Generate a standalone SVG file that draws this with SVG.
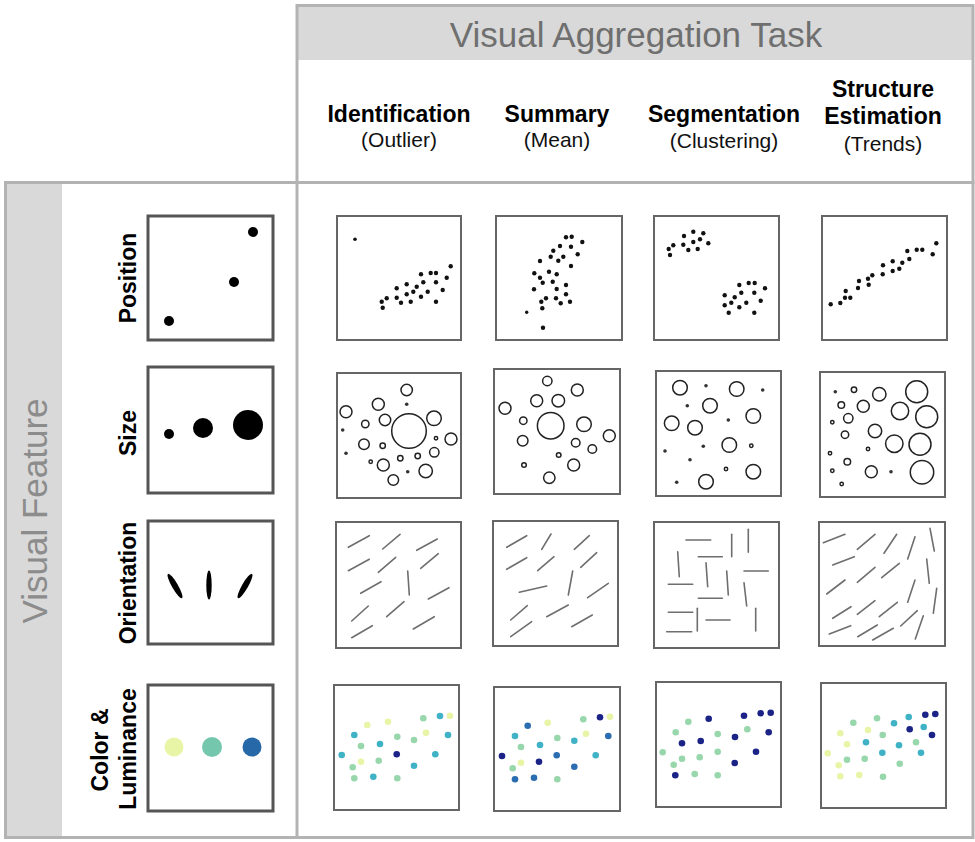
<svg xmlns="http://www.w3.org/2000/svg" width="975" height="842" viewBox="0 0 975 842">
<style>
.frame{fill:none;stroke:#b3b3b3;stroke-width:3}
.band{fill:#d9d9d9}
.title{font-family:"Liberation Sans",Arial,sans-serif;fill:#6f6f6f}
.hb{font-family:"Liberation Sans",Arial,sans-serif;font-weight:bold;font-size:23px;fill:#000;text-anchor:middle}
.hr{font-family:"Liberation Sans",Arial,sans-serif;font-size:21px;fill:#111;text-anchor:middle}
.leg{fill:#fff;stroke:#555;stroke-width:3}
.pan{fill:#fff;stroke:#666;stroke-width:2}
.pd{fill:#111}
.so{fill:none;stroke:#222;stroke-width:1.5}
.sf{fill:#333}
.ol{stroke:#6e6e6e;stroke-width:1.6;stroke-linecap:round}
.Y{fill:#e8f5a6}.G{fill:#98d7ac}.T{fill:#3fb2c6}.B{fill:#2a6db0}.N{fill:#1b2387}
</style>
<rect width="975" height="842" fill="#fff"/>
<g id="frames">
<rect class="band" x="298" y="7" width="674" height="53"/>
<rect class="band" x="7" y="184" width="55" height="653"/>
<rect class="frame" x="297" y="5.5" width="676" height="177"/>
<rect class="frame" x="5.5" y="182.5" width="967.5" height="655"/>
<line class="frame" x1="297" y1="182" x2="297" y2="838"/>
</g>
<g id="title-task"><text class="title" x="636" y="47" font-size="35" text-anchor="middle">Visual Aggregation Task</text></g>
<g id="title-feature"><text class="title" transform="translate(47,511) rotate(-90)" font-size="35" text-anchor="middle" fill="#8c8c8c" style="fill:#8c8c8c">Visual Feature</text></g>
<g id="col-identification"><text class="hb" x="399" y="122">Identification</text><text class="hr" x="399" y="147">(Outlier)</text></g>
<g id="col-summary"><text class="hb" x="557" y="122">Summary</text><text class="hr" x="557" y="147">(Mean)</text></g>
<g id="col-segmentation"><text class="hb" x="724" y="122">Segmentation</text><text class="hr" x="724" y="148">(Clustering)</text></g>
<g id="col-structure"><text class="hb" x="883" y="97">Structure</text><text class="hb" x="883" y="124">Estimation</text><text class="hr" x="883" y="151">(Trends)</text></g>
<g id="row-position">
<text class="hb" transform="translate(136,278) rotate(-90)">Position</text>
<rect class="leg" x="148" y="216" width="125" height="124"/>
<circle cx="169" cy="321" r="5"/><circle cx="234" cy="282" r="5"/><circle cx="253" cy="232" r="5"/>
</g>
<g id="row-size">
<text class="hb" transform="translate(136,433) rotate(-90)">Size</text>
<rect class="leg" x="148" y="367" width="125" height="126"/>
<circle cx="169" cy="434" r="5"/><circle cx="203" cy="428" r="10"/><circle cx="248" cy="425" r="15"/>
</g>
<g id="row-orientation">
<text class="hb" transform="translate(136,583) rotate(-90)">Orientation</text>
<rect class="leg" x="148" y="521" width="125" height="123"/>
<ellipse cx="175" cy="586" rx="3" ry="14" transform="rotate(-30 175 586)"/>
<ellipse cx="209" cy="585" rx="2.7" ry="14.5"/>
<ellipse cx="245" cy="586" rx="3" ry="14" transform="rotate(30 245 586)"/>
</g>
<g id="row-color">
<text class="hb" transform="translate(108,750) rotate(-90)">Color &amp;</text>
<text class="hb" transform="translate(136,749) rotate(-90)">Luminance</text>
<rect class="leg" x="148" y="685" width="125" height="126"/>
<circle cx="174" cy="747" r="9.5" fill="#e9f5a6"/><circle cx="212" cy="747" r="10" fill="#74c7ad"/><circle cx="252" cy="747" r="9.5" fill="#2668a8"/>
</g>
<g id="pos-identification">
<rect class="pan" x="337" y="216" width="124" height="124"/>
<g class="pd">
<circle cx="355" cy="239.3" r="1.8"/>
<circle cx="381.7" cy="301.7" r="2.2"/><circle cx="382.7" cy="307.7" r="2.2"/><circle cx="386.7" cy="298.3" r="2.2"/><circle cx="396.7" cy="288.3" r="2.2"/><circle cx="396.7" cy="297.7" r="2.2"/><circle cx="401" cy="302.7" r="2.2"/><circle cx="406.7" cy="284.3" r="2.2"/><circle cx="406.7" cy="294.3" r="2.2"/><circle cx="410.7" cy="301.7" r="2.2"/><circle cx="413.3" cy="291.7" r="2.2"/><circle cx="416.7" cy="286.7" r="2.2"/><circle cx="421" cy="274.3" r="2.2"/><circle cx="421" cy="296.7" r="2.2"/><circle cx="423.3" cy="282.3" r="2.2"/><circle cx="427.7" cy="291.7" r="2.2"/><circle cx="430.7" cy="273" r="2.2"/><circle cx="436" cy="273" r="2.2"/><circle cx="436" cy="282.3" r="2.2"/><circle cx="436" cy="301.7" r="2.2"/><circle cx="442.7" cy="290" r="2.2"/><circle cx="446.7" cy="277.7" r="2.2"/><circle cx="450.7" cy="266.3" r="2.2"/>
</g>
</g>
<g id="pos-summary">
<rect class="pan" x="496" y="216" width="126" height="124"/>
<g class="pd">
<circle cx="566" cy="237.3" r="2.2"/><circle cx="571.7" cy="236.7" r="2.2"/><circle cx="582.3" cy="242" r="2.2"/><circle cx="560" cy="246" r="2.2"/><circle cx="571" cy="246.7" r="2.2"/><circle cx="553.3" cy="250.7" r="2.2"/><circle cx="577.7" cy="254.3" r="2.2"/><circle cx="550.7" cy="256.7" r="2.2"/><circle cx="563.3" cy="256.7" r="2.2"/><circle cx="558.3" cy="260.7" r="2.2"/><circle cx="540" cy="261" r="2.2"/><circle cx="571" cy="266" r="2.2"/><circle cx="534.3" cy="273.3" r="2.2"/><circle cx="549" cy="271.7" r="2.2"/><circle cx="556.7" cy="274.3" r="2.2"/><circle cx="540" cy="277.7" r="2.2"/><circle cx="542.7" cy="282.7" r="2.2"/><circle cx="552.7" cy="281.7" r="2.2"/><circle cx="566" cy="285" r="2.2"/><circle cx="534" cy="289.3" r="2.2"/><circle cx="556.7" cy="289" r="2.2"/><circle cx="566" cy="294.3" r="2.2"/><circle cx="546" cy="298.3" r="2.2"/><circle cx="556" cy="298.3" r="2.2"/><circle cx="570" cy="301.7" r="2.2"/><circle cx="541.3" cy="301.7" r="2.2"/><circle cx="560.7" cy="303.3" r="2.2"/><circle cx="542.3" cy="308.3" r="2.2"/><circle cx="526.7" cy="312.3" r="1.7"/><circle cx="543" cy="327.7" r="2.2"/>
</g>
</g>
<g id="pos-segmentation">
<rect class="pan" x="654" y="216" width="125" height="124"/>
<g class="pd">
<circle cx="684" cy="236" r="2.2"/><circle cx="693.3" cy="231.7" r="2.2"/><circle cx="703.3" cy="233.3" r="2.2"/><circle cx="673.3" cy="245.3" r="2.2"/><circle cx="668.7" cy="249" r="2.2"/><circle cx="670" cy="255" r="2.2"/><circle cx="683.3" cy="244.7" r="2.2"/><circle cx="693.3" cy="242" r="2.2"/><circle cx="700" cy="239.3" r="2.2"/><circle cx="708.3" cy="243.3" r="2.2"/><circle cx="688.3" cy="250" r="2.2"/><circle cx="697.7" cy="249" r="2.2"/>
<circle cx="739.3" cy="285" r="2.2"/><circle cx="748.7" cy="283" r="2.2"/><circle cx="754.7" cy="283" r="2.2"/><circle cx="765" cy="288.3" r="2.2"/><circle cx="724.7" cy="295.3" r="2.2"/><circle cx="734.7" cy="297.3" r="2.2"/><circle cx="741.3" cy="292.7" r="2.2"/><circle cx="754.3" cy="292.7" r="2.2"/><circle cx="731.3" cy="302.7" r="2.2"/><circle cx="724.7" cy="305.3" r="2.2"/><circle cx="746.3" cy="302.7" r="2.2"/><circle cx="739.3" cy="307.3" r="2.2"/><circle cx="760.7" cy="300.7" r="2.2"/><circle cx="728.7" cy="312.7" r="2.2"/><circle cx="754.3" cy="312.7" r="2.2"/>
</g>
</g>
<g id="pos-structure">
<rect class="pan" x="822" y="216" width="125" height="124"/>
<g class="pd">
<circle cx="830.7" cy="304.3" r="2.2"/><circle cx="840.3" cy="303" r="2.2"/><circle cx="845" cy="297.7" r="2.2"/><circle cx="850.3" cy="297.7" r="2.2"/><circle cx="845.7" cy="291" r="2.2"/><circle cx="858" cy="288" r="2.2"/><circle cx="859" cy="281" r="2.2"/><circle cx="868" cy="278.7" r="2.2"/><circle cx="868.7" cy="284.7" r="2.2"/><circle cx="872.3" cy="275.3" r="2.2"/><circle cx="882.7" cy="274.3" r="2.2"/><circle cx="883" cy="265.3" r="2.2"/><circle cx="892.7" cy="271" r="2.2"/><circle cx="892.7" cy="261.3" r="2.2"/><circle cx="899.3" cy="268.7" r="2.2"/><circle cx="902.3" cy="262.7" r="2.2"/><circle cx="909.3" cy="259" r="2.2"/><circle cx="907.3" cy="251" r="2.2"/><circle cx="916.7" cy="249.7" r="2.2"/><circle cx="922.3" cy="249.7" r="2.2"/><circle cx="932.7" cy="254.3" r="2.2"/><circle cx="936.3" cy="243.3" r="2.2"/>
</g>
</g>
<g id="size-identification">
<rect class="pan" x="337" y="373" width="124" height="125"/>
<g class="so">
<circle cx="406.7" cy="390" r="5.7"/><circle cx="378.3" cy="404.3" r="6"/><circle cx="346" cy="411.7" r="6"/><circle cx="385" cy="420" r="5.7"/><circle cx="409" cy="431" r="17.3"/><circle cx="434" cy="418.3" r="7.3"/><circle cx="365.3" cy="424" r="3.7"/><circle cx="436" cy="438.3" r="1.7"/><circle cx="451" cy="439" r="6"/><circle cx="364" cy="444.3" r="5.3"/><circle cx="382.7" cy="445.7" r="2.7"/><circle cx="434.3" cy="452.3" r="4.7"/><circle cx="417.7" cy="456" r="2.7"/><circle cx="400.3" cy="458.3" r="2.7"/><circle cx="370.7" cy="461.7" r="1.7"/><circle cx="383.3" cy="465" r="6"/><circle cx="425.7" cy="471" r="6.7"/><circle cx="393.3" cy="480" r="5.3"/>
</g>
<g class="sf"><circle cx="406.7" cy="404.3" r="1.8"/><circle cx="342.7" cy="430" r="1.8"/><circle cx="346" cy="453.3" r="1.8"/><circle cx="407.7" cy="471.7" r="1.8"/></g>
</g>
<g id="size-summary">
<rect class="pan" x="494" y="369" width="126" height="125"/>
<g class="so">
<circle cx="547.3" cy="381" r="4.7"/><circle cx="577.3" cy="390" r="6"/><circle cx="536.7" cy="400.7" r="6"/><circle cx="558.3" cy="400.7" r="6.3"/><circle cx="505" cy="408.3" r="6"/><circle cx="523.3" cy="420.7" r="3.7"/><circle cx="550.7" cy="425.7" r="13.3"/><circle cx="584" cy="424.3" r="7.3"/><circle cx="609.3" cy="435.7" r="6"/><circle cx="522.7" cy="440.7" r="5.3"/><circle cx="575.7" cy="442.7" r="4.3"/><circle cx="592.3" cy="449" r="4.3"/><circle cx="558.7" cy="455" r="2.3"/><circle cx="524" cy="465" r="2.3"/><circle cx="573.7" cy="465" r="6"/><circle cx="549.3" cy="477.7" r="5.7"/>
</g>
</g>
<g id="size-segmentation">
<rect class="pan" x="656" y="371" width="125" height="125"/>
<g class="so">
<circle cx="680" cy="387.7" r="7.3"/><circle cx="736.7" cy="389" r="7.3"/><circle cx="710" cy="405.7" r="7.3"/><circle cx="753.3" cy="416" r="7.3"/><circle cx="671.7" cy="423.3" r="7.3"/><circle cx="695" cy="427.7" r="7.3"/><circle cx="729.3" cy="445" r="7.3"/><circle cx="751.3" cy="445.7" r="1.7"/><circle cx="726" cy="469" r="1.7"/><circle cx="753.3" cy="471.7" r="7.3"/><circle cx="706" cy="481.7" r="7.3"/>
</g>
<g class="sf"><circle cx="706" cy="385.7" r="1.8"/><circle cx="762.7" cy="390" r="1.8"/><circle cx="687.3" cy="405.7" r="1.8"/><circle cx="728.3" cy="420" r="1.8"/><circle cx="665" cy="451" r="1.8"/><circle cx="703.3" cy="446.3" r="1.8"/><circle cx="690" cy="459.7" r="1.8"/><circle cx="676.7" cy="482.3" r="1.8"/></g>
</g>
<g id="size-structure">
<rect class="pan" x="820" y="372" width="125" height="125"/>
<g class="so">
<circle cx="854" cy="389.7" r="2.7"/><circle cx="879.3" cy="394.3" r="6.7"/><circle cx="916.7" cy="391.7" r="11"/><circle cx="841.3" cy="405" r="3.3"/><circle cx="863.3" cy="406.3" r="6"/><circle cx="900" cy="411" r="8.7"/><circle cx="926.7" cy="416.7" r="11"/><circle cx="848.3" cy="418.3" r="4.7"/><circle cx="832.3" cy="422.3" r="1.7"/><circle cx="875" cy="431" r="6.7"/><circle cx="845" cy="434.7" r="3.7"/><circle cx="894.3" cy="443.7" r="8.7"/><circle cx="920" cy="444.3" r="11"/><circle cx="868" cy="449" r="1.7"/><circle cx="830" cy="453.3" r="1.7"/><circle cx="847.3" cy="461.7" r="3.3"/><circle cx="871.3" cy="471.7" r="6"/><circle cx="922" cy="472.3" r="11.7"/><circle cx="832.3" cy="470.7" r="1.7"/><circle cx="841.7" cy="484" r="1.7"/>
</g>
<g class="sf"><circle cx="835.3" cy="391.7" r="1.8"/><circle cx="891" cy="471.7" r="1.8"/></g>
</g>
<g id="orient-identification">
<rect class="pan" x="336" y="522" width="125" height="126"/>
<g class="ol">
<line x1="348.3" y1="547.3" x2="369.3" y2="535.7"/><line x1="382.7" y1="549" x2="400" y2="534.3"/><line x1="416.7" y1="550.3" x2="437.3" y2="539"/><line x1="348.3" y1="570.7" x2="369.3" y2="559.3"/><line x1="378.3" y1="572.3" x2="395.7" y2="557.3"/><line x1="420.7" y1="568.3" x2="438.3" y2="553.7"/><line x1="407.7" y1="571" x2="409.3" y2="595"/><line x1="360.7" y1="593.3" x2="381" y2="581.7"/><line x1="428.3" y1="599" x2="449" y2="587.7"/><line x1="351.7" y1="621" x2="368.3" y2="606"/><line x1="386.7" y1="616.7" x2="404" y2="601.7"/><line x1="351.7" y1="637.7" x2="372.3" y2="625.7"/><line x1="413.3" y1="629" x2="434.3" y2="616.7"/>
</g>
</g>
<g id="orient-summary">
<rect class="pan" x="493" y="521" width="125" height="125"/>
<g class="ol">
<line x1="506.7" y1="547.3" x2="526.7" y2="535.7"/><line x1="541.7" y1="549.3" x2="551" y2="534"/><line x1="574.3" y1="549.3" x2="589.3" y2="535.7"/><line x1="506.7" y1="569.3" x2="526.7" y2="557.7"/><line x1="537.7" y1="570.7" x2="554" y2="556.7"/><line x1="580.7" y1="567.3" x2="596.7" y2="552.7"/><line x1="568.3" y1="595" x2="572.7" y2="571"/><line x1="519.3" y1="592.3" x2="546.7" y2="586"/><line x1="587.7" y1="597.7" x2="608.3" y2="583.3"/><line x1="510.7" y1="620" x2="527.3" y2="605.7"/><line x1="546.7" y1="616.7" x2="568.3" y2="605"/><line x1="571.7" y1="626.7" x2="592.3" y2="615"/><line x1="510.7" y1="636.7" x2="531.7" y2="621.7"/>
</g>
</g>
<g id="orient-segmentation">
<rect class="pan" x="654" y="522" width="125" height="126"/>
<g class="ol">
<line x1="686" y1="540" x2="710.7" y2="540"/><line x1="731.7" y1="534.3" x2="731.7" y2="556.7"/><line x1="748.3" y1="529.3" x2="748.3" y2="552.3"/><line x1="677.7" y1="551.7" x2="679.3" y2="576.7"/><line x1="698.3" y1="556.7" x2="722.3" y2="556.7"/><line x1="706" y1="562.7" x2="707.7" y2="586.7"/><line x1="726.7" y1="571" x2="728.3" y2="595"/><line x1="744" y1="571" x2="768.3" y2="571"/><line x1="668.3" y1="584.3" x2="692.7" y2="584.3"/><line x1="744" y1="582.7" x2="746.7" y2="606"/><line x1="698.3" y1="598.3" x2="722.3" y2="598.3"/><line x1="697.3" y1="608.3" x2="697.3" y2="631"/><line x1="668.3" y1="612.3" x2="692.7" y2="612.3"/><line x1="706" y1="620" x2="730" y2="620"/><line x1="755.7" y1="608.3" x2="755.7" y2="631"/><line x1="666.7" y1="631.7" x2="691.7" y2="631.7"/>
</g>
</g>
<g id="orient-structure">
<rect class="pan" x="819" y="522" width="126" height="124"/>
<g class="ol">
<line x1="823.3" y1="542.7" x2="845" y2="534.3"/><line x1="857.3" y1="549.3" x2="875" y2="534.3"/><line x1="884" y1="553.3" x2="896.7" y2="534.3"/><line x1="907.7" y1="559" x2="915" y2="536.7"/><line x1="930" y1="528.3" x2="934.3" y2="551"/><line x1="832.7" y1="565" x2="854.3" y2="556.7"/><line x1="857.3" y1="582.3" x2="875" y2="567.3"/><line x1="881.7" y1="577.7" x2="899.3" y2="563.3"/><line x1="926.7" y1="559" x2="929.3" y2="583.3"/><line x1="826.7" y1="594" x2="845" y2="580"/><line x1="907.7" y1="602.3" x2="915" y2="580"/><line x1="933.3" y1="613.3" x2="936.7" y2="588.3"/><line x1="832.7" y1="618.3" x2="851" y2="606.7"/><line x1="857.3" y1="614.3" x2="875" y2="600.7"/><line x1="879.3" y1="616.7" x2="897.3" y2="602.3"/><line x1="900.7" y1="626" x2="917.3" y2="610.7"/><line x1="829.3" y1="634" x2="850.7" y2="625.7"/><line x1="857.7" y1="636.7" x2="877.3" y2="625"/><line x1="872.7" y1="640" x2="893.3" y2="628.3"/><line x1="915.3" y1="639" x2="923.3" y2="615.7"/>
</g>
</g>
<g id="color-identification">
<rect class="pan" x="334" y="685" width="125" height="125"/>
<circle class="Y" cx="367.3" cy="725" r="3.3"/><circle class="Y" cx="388" cy="721.7" r="3.3"/><circle class="G" cx="423.3" cy="718.3" r="3.3"/><circle class="T" cx="440" cy="716" r="3.3"/><circle class="Y" cx="450" cy="715.7" r="3.3"/><circle class="T" cx="354.3" cy="735" r="3.3"/><circle class="G" cx="397.3" cy="736.7" r="3.3"/><circle class="G" cx="414" cy="740" r="3.3"/><circle class="Y" cx="426" cy="732.7" r="3.3"/><circle class="T" cx="448" cy="735" r="3.3"/><circle class="G" cx="361" cy="746" r="3.3"/><circle class="T" cx="380" cy="744" r="3.3"/><circle class="T" cx="341.7" cy="755" r="3.3"/><circle class="N" cx="396.7" cy="754.3" r="3.3"/><circle class="T" cx="435.3" cy="754.3" r="3.3"/><circle class="Y" cx="361" cy="761.7" r="3.3"/><circle class="G" cx="378.7" cy="760.7" r="3.3"/><circle class="G" cx="352.7" cy="767.3" r="3.3"/><circle class="T" cx="414" cy="765.7" r="3.3"/><circle class="G" cx="354.3" cy="778.3" r="3.3"/><circle class="T" cx="373.3" cy="776.7" r="3.3"/><circle class="G" cx="397.3" cy="778.3" r="3.3"/>
</g>
<g id="color-summary">
<rect class="pan" x="494" y="687" width="126" height="124"/>
<circle class="Y" cx="547.7" cy="722.7" r="3.3"/><circle class="G" cx="583.3" cy="719.3" r="3.3"/><circle class="N" cx="600" cy="717.3" r="3.3"/><circle class="Y" cx="610" cy="716.7" r="3.3"/><circle class="B" cx="527.7" cy="725.7" r="3.3"/><circle class="T" cx="515" cy="736" r="3.3"/><circle class="G" cx="557.3" cy="738" r="3.3"/><circle class="T" cx="574.3" cy="740.7" r="3.3"/><circle class="Y" cx="586" cy="733.7" r="3.3"/><circle class="B" cx="608.3" cy="736" r="3.3"/><circle class="G" cx="521" cy="747" r="3.3"/><circle class="T" cx="540" cy="745" r="3.3"/><circle class="N" cx="502" cy="756" r="3.3"/><circle class="B" cx="556.7" cy="755.3" r="3.3"/><circle class="T" cx="595.7" cy="755.3" r="3.3"/><circle class="Y" cx="521" cy="762.7" r="3.3"/><circle class="N" cx="539" cy="761.7" r="3.3"/><circle class="G" cx="512.7" cy="768.3" r="3.3"/><circle class="B" cx="574.3" cy="766.7" r="3.3"/><circle class="B" cx="515" cy="779.3" r="3.3"/><circle class="B" cx="534" cy="777.7" r="3.3"/><circle class="G" cx="557.3" cy="779.3" r="3.3"/>
</g>
<g id="color-segmentation">
<rect class="pan" x="656" y="682" width="125" height="125"/>
<circle class="G" cx="688.3" cy="721.7" r="3.3"/><circle class="N" cx="708.7" cy="718.7" r="3.3"/><circle class="N" cx="744" cy="715.7" r="3.3"/><circle class="N" cx="760.7" cy="713.3" r="3.3"/><circle class="N" cx="770.7" cy="712.7" r="3.3"/><circle class="G" cx="675.7" cy="732.3" r="3.3"/><circle class="G" cx="717.7" cy="734" r="3.3"/><circle class="N" cx="735" cy="737" r="3.3"/><circle class="G" cx="747.3" cy="729.3" r="3.3"/><circle class="N" cx="768.7" cy="732.3" r="3.3"/><circle class="N" cx="682" cy="743.3" r="3.3"/><circle class="N" cx="700.7" cy="741" r="3.3"/><circle class="G" cx="662.7" cy="752.3" r="3.3"/><circle class="G" cx="682" cy="758.7" r="3.3"/><circle class="G" cx="699.7" cy="757.3" r="3.3"/><circle class="G" cx="717.7" cy="751.7" r="3.3"/><circle class="N" cx="756" cy="751.7" r="3.3"/><circle class="G" cx="673.7" cy="764.7" r="3.3"/><circle class="N" cx="734.7" cy="763" r="3.3"/><circle class="N" cx="675.3" cy="775.3" r="3.3"/><circle class="G" cx="694.7" cy="774" r="3.3"/><circle class="G" cx="717.7" cy="775.3" r="3.3"/>
</g>
<g id="color-structure">
<rect class="pan" x="821" y="683" width="125" height="125"/>
<circle class="G" cx="853.3" cy="722.7" r="3.3"/><circle class="G" cx="877" cy="718.3" r="3.3"/><circle class="T" cx="894" cy="723.3" r="3.3"/><circle class="T" cx="908.7" cy="717" r="3.3"/><circle class="N" cx="925.3" cy="714.7" r="3.3"/><circle class="N" cx="935.3" cy="714" r="3.3"/><circle class="Y" cx="840.3" cy="733.3" r="3.3"/><circle class="Y" cx="868" cy="730" r="3.3"/><circle class="G" cx="882.7" cy="735" r="3.3"/><circle class="N" cx="909.7" cy="729.3" r="3.3"/><circle class="T" cx="923.7" cy="727" r="3.3"/><circle class="N" cx="932" cy="735" r="3.3"/><circle class="Y" cx="847" cy="744.3" r="3.3"/><circle class="T" cx="866" cy="742.3" r="3.3"/><circle class="T" cx="899" cy="745.3" r="3.3"/><circle class="G" cx="916" cy="742.3" r="3.3"/><circle class="Y" cx="827.7" cy="753.3" r="3.3"/><circle class="G" cx="847" cy="759.7" r="3.3"/><circle class="G" cx="864.7" cy="758.7" r="3.3"/><circle class="T" cx="882.3" cy="752.7" r="3.3"/><circle class="T" cx="921" cy="752.7" r="3.3"/><circle class="Y" cx="838.7" cy="765.3" r="3.3"/><circle class="G" cx="899.7" cy="763.7" r="3.3"/><circle class="Y" cx="840.3" cy="776.3" r="3.3"/><circle class="Y" cx="859.3" cy="775" r="3.3"/><circle class="G" cx="883" cy="776.7" r="3.3"/>
</g>
<g id="connectors"/>
</svg>
